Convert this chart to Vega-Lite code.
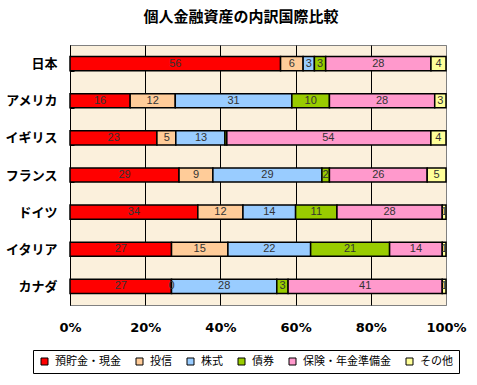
{
  "$schema": "https://vega.github.io/schema/vega-lite/v6.json",
  "autosize": {"type": "none"},
  "width": 376,
  "height": 260,
  "padding": {"left": 70, "top": 45, "right": 31, "bottom": 80},
  "background": "white",
  "title": {"text": "個人金融資産の内訳国際比較", "font": "Noto Sans CJK JP", "fontSize": 15, "fontWeight": "bold", "color": "black", "anchor": "middle", "dx": -17, "offset": 14},
  "config": {
    "view": {"stroke": "#808080", "fill": "#FBF0DC", "strokeWidth": 1}
  },
  "data": {"values": [
    {"c": "日本", "s": "預貯金・現金", "k": 1, "v": 56},
    {"c": "日本", "s": "投信", "k": 2, "v": 6},
    {"c": "日本", "s": "株式", "k": 3, "v": 3},
    {"c": "日本", "s": "債券", "k": 4, "v": 3},
    {"c": "日本", "s": "保険・年金準備金", "k": 5, "v": 28},
    {"c": "日本", "s": "その他", "k": 6, "v": 4},
    {"c": "アメリカ", "s": "預貯金・現金", "k": 1, "v": 16},
    {"c": "アメリカ", "s": "投信", "k": 2, "v": 12},
    {"c": "アメリカ", "s": "株式", "k": 3, "v": 31},
    {"c": "アメリカ", "s": "債券", "k": 4, "v": 10},
    {"c": "アメリカ", "s": "保険・年金準備金", "k": 5, "v": 28},
    {"c": "アメリカ", "s": "その他", "k": 6, "v": 3},
    {"c": "イギリス", "s": "預貯金・現金", "k": 1, "v": 23},
    {"c": "イギリス", "s": "投信", "k": 2, "v": 5},
    {"c": "イギリス", "s": "株式", "k": 3, "v": 13},
    {"c": "イギリス", "s": "債券", "k": 4, "v": 0.5},
    {"c": "イギリス", "s": "保険・年金準備金", "k": 5, "v": 54},
    {"c": "イギリス", "s": "その他", "k": 6, "v": 4},
    {"c": "フランス", "s": "預貯金・現金", "k": 1, "v": 29},
    {"c": "フランス", "s": "投信", "k": 2, "v": 9},
    {"c": "フランス", "s": "株式", "k": 3, "v": 29},
    {"c": "フランス", "s": "債券", "k": 4, "v": 2},
    {"c": "フランス", "s": "保険・年金準備金", "k": 5, "v": 26},
    {"c": "フランス", "s": "その他", "k": 6, "v": 5},
    {"c": "ドイツ", "s": "預貯金・現金", "k": 1, "v": 34},
    {"c": "ドイツ", "s": "投信", "k": 2, "v": 12},
    {"c": "ドイツ", "s": "株式", "k": 3, "v": 14},
    {"c": "ドイツ", "s": "債券", "k": 4, "v": 11},
    {"c": "ドイツ", "s": "保険・年金準備金", "k": 5, "v": 28},
    {"c": "ドイツ", "s": "その他", "k": 6, "v": 1},
    {"c": "イタリア", "s": "預貯金・現金", "k": 1, "v": 27},
    {"c": "イタリア", "s": "投信", "k": 2, "v": 15},
    {"c": "イタリア", "s": "株式", "k": 3, "v": 22},
    {"c": "イタリア", "s": "債券", "k": 4, "v": 21},
    {"c": "イタリア", "s": "保険・年金準備金", "k": 5, "v": 14},
    {"c": "イタリア", "s": "その他", "k": 6, "v": 1},
    {"c": "カナダ", "s": "預貯金・現金", "k": 1, "v": 27},
    {"c": "カナダ", "s": "投信", "k": 2, "v": 0},
    {"c": "カナダ", "s": "株式", "k": 3, "v": 28},
    {"c": "カナダ", "s": "債券", "k": 4, "v": 3},
    {"c": "カナダ", "s": "保険・年金準備金", "k": 5, "v": 41},
    {"c": "カナダ", "s": "その他", "k": 6, "v": 1}
  ]},
  "encoding": {
    "y": {
      "field": "c", "type": "nominal",
      "sort": ["日本", "アメリカ", "イギリス", "フランス", "ドイツ", "イタリア", "カナダ"],
      "scale": {"paddingInner": 0.62, "paddingOuter": 0.31},
      "axis": {"title": null, "labelFont": "Noto Sans CJK JP", "labelFontWeight": "bold", "labelFontSize": 13, "labelColor": "black", "labelPadding": 17, "tickBand": "extent", "tickSize": -4, "tickColor": "black", "domainColor": "black", "grid": false}
    },
    "order": {"field": "k", "type": "quantitative"}
  },
  "layer": [
    {
      "mark": {"type": "bar", "stroke": "black", "strokeWidth": 1.5},
      "encoding": {
        "x": {
          "field": "v", "type": "quantitative", "stack": "normalize",
          "scale": {"domain": [0, 1]},
          "axis": {"title": null, "format": "%", "values": [0, 0.2, 0.4, 0.6, 0.8, 1], "grid": true, "gridColor": {"condition": {"test": "datum.value == 1", "value": "#808080"}, "value": "black"}, "gridOpacity": 1, "ticks": false, "domain": false, "labelFont": "DejaVu Sans", "labelFontWeight": "bold", "labelFontSize": 13, "labelColor": "black", "labelPadding": 16, "labelFlush": false}
        },
        "color": {
          "field": "s", "type": "nominal",
          "scale": {"domain": ["預貯金・現金", "投信", "株式", "債券", "保険・年金準備金", "その他"], "range": ["#FF0000", "#FFCC99", "#99CCFF", "#99CC00", "#FF99CC", "#FFFF99"]},
          "legend": {"orient": "none", "legendX": -37, "legendY": 305, "direction": "horizontal", "title": null, "strokeColor": "black", "fillColor": "white", "padding": 6, "symbolType": "square", "symbolSize": 49, "symbolStrokeColor": "black", "symbolStrokeWidth": 1, "symbolOpacity": 1, "labelFont": "Noto Sans CJK JP", "labelFontSize": 11, "labelColor": "black", "labelOffset": 5, "columnPadding": 13}
        }
      }
    },
    {
      "transform": [{"filter": "datum.v >= 1 || datum.v == 0"}],
      "mark": {"type": "text", "font": "Liberation Sans", "fontSize": 11, "color": "#333333"},
      "encoding": {
        "x": {"field": "v", "type": "quantitative", "stack": "normalize", "bandPosition": 0.5},
        "text": {"field": "v", "type": "quantitative"}
      }
    }
  ]
}
